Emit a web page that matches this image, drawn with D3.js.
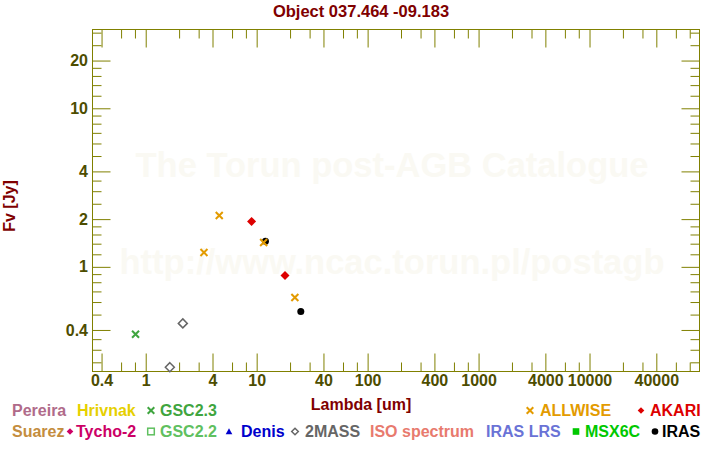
<!DOCTYPE html>
<html>
<head>
<meta charset="utf-8">
<script src="https://cdn.jsdelivr.net/npm/d3@7"></script>
<style>
  html, body { margin: 0; padding: 0; background: #ffffff; }
  svg { display: block; }
  text { font-family: "Liberation Sans", Arial, sans-serif; font-weight: bold; }
</style>
</head>
<body>
<svg id="chart" width="720" height="450"></svg>
<script>
// ---------------- data ----------------
const title = "Object 037.464 -09.183";
const xLabel = "Lambda [um]";
const yLabel = "Fv [Jy]";
const watermark1 = "The Torun post-AGB Catalogue";
const watermark2 = "http://www.ncac.torun.pl/postagb";

const xMajorTicks = [0.4, 1, 4, 10, 40, 100, 400, 1000, 4000, 10000, 40000];
const xMinorTicks = [0.6, 0.8, 2, 3, 6, 8, 20, 30, 60, 80, 200, 300, 600, 800,
                     2000, 3000, 6000, 8000, 20000, 30000, 60000, 80000];
const yMajorTicks = [0.4, 1, 2, 4, 10, 20];
const yMinorTicks = [0.25, 0.3, 0.35, 0.5, 0.6, 0.7, 0.8, 0.9, 1.2, 1.4, 1.6, 1.8,
                     2.5, 3, 3.5, 5, 6, 7, 8, 9, 12, 14, 16, 18, 25, 30];

// photometry (wavelength um, flux Jy)
const gsc23Lambda = [0.81];
const gsc23Flux = [0.376];
const twomassLambda = [1.65, 2.16];
const twomassFlux = [0.233, 0.44];
const irasLambda = [12, 25];
const irasFlux = [1.45, 0.523];
const akariLambda = [9, 18];
const akariFlux = [1.935, 0.882];
const allwiseLambda = [3.35, 4.6, 11.56, 22.1];
const allwiseFlux = [1.233, 2.11, 1.426, 0.641];

// legend
const legendLabels = ["Pereira", "Hrivnak", "GSC2.3", "ALLWISE", "AKARI",
                      "Suarez", "Tycho-2", "GSC2.2", "Denis", "2MASS", "ISO spectrum", "IRAS LRS", "MSX6C", "IRAS"];
const legendSymbols = ["none", "none", "cross", "cross", "diamond",
                       "none", "diamond", "squareOpen", "triangle", "diamondOpen", "none", "none", "square", "circle"];
</script>
<script>
// ---------------- layout / style ----------------
const legendColors = ["#b06b8a", "#e6d000", "#3fa53f", "#e39b00", "#dd0000",
                      "#c48d3e", "#cc0066", "#60c060", "#0000cc", "#666666", "#e87a6e", "#6a73d6", "#00c800", "#000000"];
const legendRow = [0, 0, 0, 0, 0, 1, 1, 1, 1, 1, 1, 1, 1, 1];
const legendSymX = [0, 0, 151, 530, 641, 0, 70, 151, 229, 295, 0, 0, 576, 655];
const legendTextX = [12, 77, 160, 540, 650, 12, 76, 160, 241, 305, 370, 486, 585, 662];
const rowBaseline = [416, 437];

const L = 92.5, R = 699.5, T = 29.5, B = 371.5;
const axisColor = "#808000";
const tickTextColor = "#4d4d00";
const titleColor = "#800000";

const svg = d3.select("#chart");

const x = d3.scaleLog().domain([0.3315, 98000]).range([L, R]);
const y = d3.scaleLog().domain([0.2188, 31.4]).range([B, T]);

// watermark
svg.append("text").attr("x", 392).attr("y", 177).attr("text-anchor", "middle")
  .attr("font-size", 34.5).attr("fill", "#faf9f3").text(watermark1);
svg.append("text").attr("x", 392).attr("y", 274).attr("text-anchor", "middle")
  .attr("font-size", 34.5).attr("fill", "#faf9f3").text(watermark2);

// axes
function styleAxis(g) {
  g.select(".domain").remove();
  g.selectAll("line").attr("stroke", axisColor).attr("stroke-width", 1);
  g.selectAll("text").attr("fill", tickTextColor).attr("font-size", 16)
    .attr("font-family", "'Liberation Sans', Arial, sans-serif").attr("font-weight", "bold");
}
const fmt = d => String(d);

svg.append("g").attr("transform", `translate(0,${B})`)
  .call(d3.axisBottom(x).tickValues(xMajorTicks).tickFormat(fmt).tickSizeInner(-18).tickSizeOuter(0).tickPadding(3))
  .call(styleAxis);
svg.append("g").attr("transform", `translate(0,${B})`)
  .call(d3.axisBottom(x).tickValues(xMinorTicks).tickFormat("").tickSizeInner(-9).tickSizeOuter(0))
  .call(styleAxis);
svg.append("g").attr("transform", `translate(0,${T})`)
  .call(d3.axisTop(x).tickValues(xMajorTicks).tickFormat("").tickSizeInner(-18).tickSizeOuter(0))
  .call(styleAxis);
svg.append("g").attr("transform", `translate(0,${T})`)
  .call(d3.axisTop(x).tickValues(xMinorTicks).tickFormat("").tickSizeInner(-9).tickSizeOuter(0))
  .call(styleAxis);

svg.append("g").attr("transform", `translate(${L},0)`)
  .call(d3.axisLeft(y).tickValues(yMajorTicks).tickFormat(fmt).tickSizeInner(-18).tickSizeOuter(0).tickPadding(4.5))
  .call(styleAxis);
svg.append("g").attr("transform", `translate(${L},0)`)
  .call(d3.axisLeft(y).tickValues(yMinorTicks).tickFormat("").tickSizeInner(-9).tickSizeOuter(0))
  .call(styleAxis);
svg.append("g").attr("transform", `translate(${R},0)`)
  .call(d3.axisRight(y).tickValues(yMajorTicks).tickFormat("").tickSizeInner(-18).tickSizeOuter(0))
  .call(styleAxis);
svg.append("g").attr("transform", `translate(${R},0)`)
  .call(d3.axisRight(y).tickValues(yMinorTicks).tickFormat("").tickSizeInner(-9).tickSizeOuter(0))
  .call(styleAxis);

// frame
svg.append("rect").attr("x", L).attr("y", T).attr("width", R - L).attr("height", B - T)
  .attr("fill", "none").attr("stroke", axisColor).attr("stroke-width", 1);

// titles
svg.append("text").attr("x", 361).attr("y", 17).attr("text-anchor", "middle")
  .attr("font-size", 16.5).attr("fill", titleColor).text(title);
svg.append("text").attr("x", 361).attr("y", 409.5).attr("text-anchor", "middle")
  .attr("font-size", 16).attr("fill", titleColor).text(xLabel);
svg.append("text").attr("transform", "translate(15,206) rotate(-90)").attr("text-anchor", "middle")
  .attr("font-size", 16).attr("fill", titleColor).text(yLabel);

// symbol drawing
function drawSymbol(g, type, cx, cy, color, s) {
  if (type === "cross") {
    g.append("path").attr("d", `M${cx - s},${cy - s}L${cx + s},${cy + s}M${cx - s},${cy + s}L${cx + s},${cy - s}`)
      .attr("stroke", color).attr("stroke-width", 2).attr("fill", "none");
  } else if (type === "diamond" || type === "diamondOpen") {
    const d = `M${cx},${cy - s}L${cx + s},${cy}L${cx},${cy + s}L${cx - s},${cy}Z`;
    if (type === "diamond") g.append("path").attr("d", d).attr("fill", color);
    else g.append("path").attr("d", d).attr("fill", "none").attr("stroke", color).attr("stroke-width", 1.5);
  } else if (type === "circle") {
    g.append("circle").attr("cx", cx).attr("cy", cy).attr("r", s).attr("fill", color);
  } else if (type === "square") {
    g.append("rect").attr("x", cx - s).attr("y", cy - s).attr("width", 2 * s).attr("height", 2 * s).attr("fill", color);
  } else if (type === "squareOpen") {
    g.append("rect").attr("x", cx - s).attr("y", cy - s).attr("width", 2 * s).attr("height", 2 * s)
      .attr("fill", "none").attr("stroke", color).attr("stroke-width", 1.5);
  } else if (type === "triangle") {
    g.append("path").attr("d", `M${cx},${cy - s}L${cx + s},${cy + s * 0.8}L${cx - s},${cy + s * 0.8}Z`).attr("fill", color);
  }
}

// data points
const pts = svg.append("g");
const series = [
  { lam: gsc23Lambda, flux: gsc23Flux, sym: "cross", color: "#3fa53f", size: 3.5 },
  { lam: twomassLambda, flux: twomassFlux, sym: "diamondOpen", color: "#666666", size: 4.5 },
  { lam: irasLambda, flux: irasFlux, sym: "circle", color: "#000000", size: 3.5 },
  { lam: akariLambda, flux: akariFlux, sym: "diamond", color: "#dd0000", size: 4.5 },
  { lam: allwiseLambda, flux: allwiseFlux, sym: "cross", color: "#e39b00", size: 3.5 }
];
series.forEach(s => {
  s.lam.forEach((l, i) => {
    const fy = s.flux[i];
    if (fy < y.domain()[0] || fy > y.domain()[1]) return;
    drawSymbol(pts, s.sym, x(l), y(fy), s.color, s.size);
  });
});

// legend
const leg = svg.append("g");
legendLabels.forEach((lab, i) => {
  const base = rowBaseline[legendRow[i]];
  if (legendSymbols[i] !== "none") {
    drawSymbol(leg, legendSymbols[i], legendSymX[i], base - 5.5, legendColors[i], 3.3);
  }
  leg.append("text").attr("x", legendTextX[i]).attr("y", base).attr("font-size", 16)
    .attr("fill", legendColors[i]).text(lab);
});
</script>
</body>
</html>
